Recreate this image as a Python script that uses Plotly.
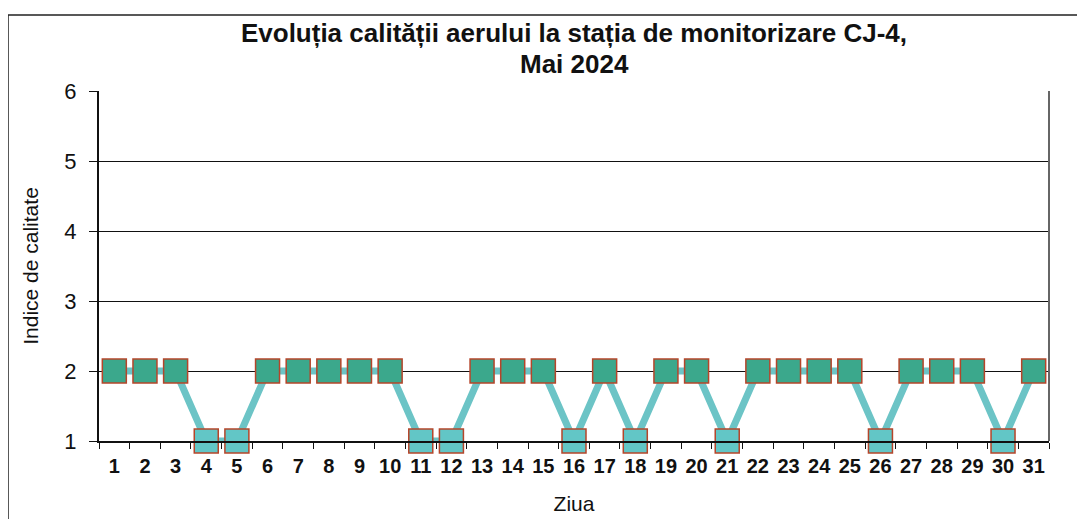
import plotly.graph_objects as go

# ── Data ──────────────────────────────────────────────────────────────────────
days = [str(d) for d in range(1, 32)]
index_values = [2, 2, 2, 1, 1, 2, 2, 2, 2, 2, 1, 1, 2, 2, 2, 1,
                2, 1, 2, 2, 1, 2, 2, 2, 2, 1, 2, 2, 2, 1, 2]
y_ticks = [1, 2, 3, 4, 5, 6]

TITLE_1 = "Evoluția calității aerului la stația de monitorizare CJ-4,"
TITLE_2 = "Mai 2024"

# ── Style ─────────────────────────────────────────────────────────────────────
# page body keeps its default 8px margin, so the figure is sized to fit
W, H = 1069, 511
M = dict(l=91, r=28, t=83, b=78)
LINE_C = "#6cc4c6"
FILL_2 = "#3ba88c"
FILL_1 = "#62c6c6"
EDGE_C = "#b5452a"
FONT = "Liberation Sans, Arial, sans-serif"
TITLE_FONT = dict(size=26, family=FONT, color="#111", weight="bold")

fig = go.Figure()
fig.add_trace(go.Scatter(
    x=days, y=index_values, mode="lines+markers",
    line=dict(color=LINE_C, width=7),
    marker=dict(symbol="square", size=24,
                color=[FILL_2 if v >= 2 else FILL_1 for v in index_values],
                line=dict(color=EDGE_C, width=1.5)),
    cliponaxis=False, showlegend=False,
))

# outer frame of the scanned chart (pixel offsets converted to paper units)
pw = W - M["l"] - M["r"]
ph = H - M["t"] - M["b"]
fig.add_shape(type="rect", xref="paper", yref="paper",
              x0=(0 - M["l"]) / pw, x1=(W + 20 - M["l"]) / pw,
              y0=-(M["b"] + 20) / ph, y1=(H - 7 - M["b"]) / ph,
              line=dict(color="#222", width=1.5), layer="below")
# right edge of plot area
fig.add_shape(type="line", xref="paper", yref="paper", x0=1, x1=1, y0=0, y1=1,
              line=dict(color="#666", width=2))

# second title line sits closer than a <br> would allow
fig.add_annotation(text=TITLE_2, xref="paper", yref="paper",
                   x=0.5, y=1 + 27 / ph, xanchor="center", yanchor="middle",
                   showarrow=False, font=TITLE_FONT)

fig.update_layout(
    width=W, height=H, margin=M,
    paper_bgcolor="white", plot_bgcolor="white",
    font=dict(family=FONT, color="#111"),
    title=dict(text=TITLE_1, xref="paper", x=0.5, xanchor="center",
               y=1 - 16 / H, yanchor="top", font=TITLE_FONT),
)
fig.update_xaxes(
    type="category", range=[-0.5, 30.5], tickson="boundaries",
    ticks="outside", ticklen=6, tickangle=0, ticklabelstandoff=6,
    tickcolor="#111", showline=True, linecolor="#111", linewidth=2,
    showgrid=False, tickfont=dict(size=20, weight="bold"), automargin=False,
    title=dict(text="Ziua", font=dict(size=21), standoff=20),
)
fig.update_yaxes(
    range=[1, 6], tickvals=y_ticks, ticks="outside", ticklen=8,
    tickcolor="#111", showline=True, linecolor="#111", linewidth=2,
    gridcolor="#111", gridwidth=1, zeroline=False, automargin=False,
    tickfont=dict(size=22), ticklabelstandoff=8,
    title=dict(text="Indice de calitate", font=dict(size=21), standoff=20),
)

fig.write_html("out.html")
